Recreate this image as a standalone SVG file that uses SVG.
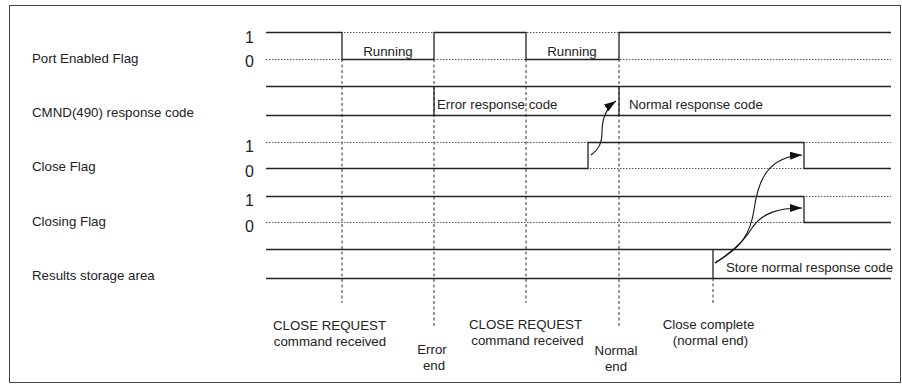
<svg xmlns="http://www.w3.org/2000/svg" width="902" height="384" viewBox="0 0 902 384">
<defs>
<style>
.t{font-family:"Liberation Sans",Arial,sans-serif;font-size:13.3px;fill:#222}
.d{font-family:"Liberation Sans",Arial,sans-serif;font-size:16px;fill:#222}
.m{text-anchor:middle}
.sig{stroke:#222;stroke-width:1.3;fill:none}
.dot{stroke:#555;stroke-width:1;stroke-dasharray:1.5 1.5;fill:none}
.dash{stroke:#333;stroke-width:1;stroke-dasharray:3 2.5;fill:none}
.arr{stroke:#111;stroke-width:1.1;fill:none;marker-end:url(#ah)}
</style>
<marker id="ah" markerUnits="userSpaceOnUse" markerWidth="14" markerHeight="10" refX="12" refY="4" orient="auto">
<path d="M0,0 L12,4 L0,8 Z" fill="#111"/>
</marker>
</defs>
<rect x="9.5" y="5.5" width="891" height="377" fill="#fff" stroke="#444" stroke-width="1"/>

<g id="guides">
<path class="dash" d="M342,59 V303 M434,59 V327 M526,59 V303 M619,59 V327 M713,278 V303"/>
</g>

<g id="port-enabled">
<text class="t" x="32" y="63">Port Enabled Flag</text>
<text class="d" x="245" y="43">1</text>
<text class="d" x="245" y="66.5">0</text>
<path class="dot" d="M266,32.5 H891 M266,59.5 H891"/>
<path class="sig" d="M266,32.5 H342 V59.5 H434 V32.5 H526 V59.5 H619 V32.5 H891"/>
<text class="t m" x="388" y="56">Running</text>
<text class="t m" x="572" y="56">Running</text>
</g>

<g id="cmnd-response">
<text class="t" x="32" y="117">CMND(490) response code</text>
<path class="sig" d="M266,86.5 H891 M266,115.5 H891 M434,86.5 V115.5 M619,86.5 V115.5"/>
<text class="t" x="437" y="109">Error response code</text>
<text class="t" x="629" y="109">Normal response code</text>
</g>

<g id="close-flag">
<text class="t" x="32" y="170.5">Close Flag</text>
<text class="d" x="245" y="151.5">1</text>
<text class="d" x="245" y="176.5">0</text>
<path class="dot" d="M266,142.5 H891 M266,168.5 H891"/>
<path class="sig" d="M266,168.5 H588 V142.5 H804 V168.5 H891"/>
</g>

<g id="closing-flag">
<text class="t" x="32" y="226">Closing Flag</text>
<text class="d" x="245" y="206">1</text>
<text class="d" x="245" y="231.5">0</text>
<path class="dot" d="M266,196.5 H891 M266,222.5 H891"/>
<path class="sig" d="M266,196.5 H804 V222.5 H891"/>
</g>

<g id="results-storage">
<text class="t" x="32" y="280">Results storage area</text>
<path class="sig" d="M266,249.5 H891 M266,278.5 H891 M713,249.5 V278.5"/>
<text class="t" x="726" y="271.5">Store normal response code</text>
</g>

<g id="connectors">
<path class="arr" d="M591,155 C599,149 602,143 602,132 C602,118 606,108 616,101"/>
<path class="arr" d="M715,263 C740,248 750,236 754,210 C758,180 768,157 802,155"/>
<path class="arr" d="M715,263 C735,250 745,240 752,228 C762,213 778,208 802,208"/>
</g>

<g id="event-labels">
<text class="t m" x="329.5" y="329.5">CLOSE REQUEST</text>
<text class="t m" x="330" y="346">command received</text>
<text class="t m" x="432" y="353.5">Error</text>
<text class="t m" x="434" y="369.5">end</text>
<text class="t m" x="525.5" y="328.5">CLOSE REQUEST</text>
<text class="t m" x="527.5" y="345">command received</text>
<text class="t m" x="616" y="355">Normal</text>
<text class="t m" x="616" y="371">end</text>
<text class="t m" x="708.5" y="329">Close complete</text>
<text class="t m" x="710.5" y="345">(normal end)</text>
</g>
</svg>
